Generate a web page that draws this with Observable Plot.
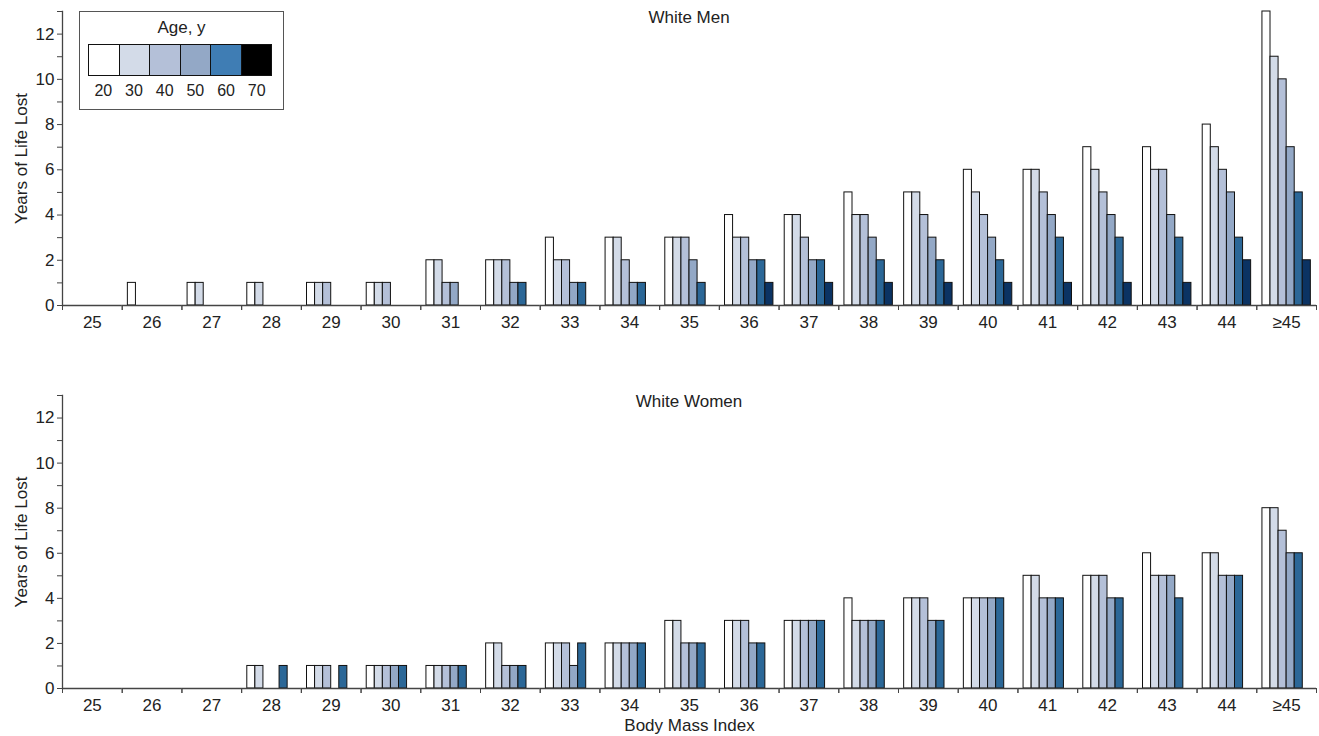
<!DOCTYPE html>
<html>
<head>
<meta charset="utf-8">
<script src="https://cdn.jsdelivr.net/npm/d3@7"></script>
<script src="https://cdn.jsdelivr.net/npm/@observablehq/plot@0.6"></script>
<style>
  body { margin: 0; background: #fff; font-family: "Liberation Sans", Arial, sans-serif; color: #222; }
  #wrap { position: relative; width: 1319px; height: 736px; overflow: hidden; }
  #top, #bottom { position: absolute; left: 0; }
  #top { top: 0; }
  #bottom { top: 384px; }
  .title { position: absolute; font-size: 17px; transform: translate(-50%, -50%); white-space: nowrap; }
  #legend { position: absolute; left: 79px; top: 11px; width: 205px; height: 99px; border: 1.5px solid #555; box-sizing: border-box; background: #fff; }
  #legend .lt { position: absolute; left: 0; right: 0; top: 6px; text-align: center; font-size: 17px; }
  #legend .sw { position: absolute; left: 8px; top: 32px; width: 184px; height: 32px; display: flex; border: 1px solid #111; box-sizing: border-box; }
  #legend .sw div { flex: 1; border-left: 1px solid #111; }
  #legend .sw div:first-child { border-left: none; }
  #legend .lb { position: absolute; left: 8px; top: 70px; width: 184px; display: flex; font-size: 16px; }
  #legend .lb div { flex: 1; text-align: center; }
</style>
</head>
<body>
<div id="wrap">
  <div id="top"></div>
  <div id="bottom"></div>
</div>
<script>
// ---- data ----
const bmiLabels = ["25","26","27","28","29","30","31","32","33","34","35","36","37","38","39","40","41","42","43","44","≥45"];
const ages = [20, 30, 40, 50, 60, 70];
const yTicks = [0,1,2,3,4,5,6,7,8,9,10,11,12,13];
const barColors = ["#ffffff", "#d3dbe8", "#b4c0d8", "#93a8c6", "#2b6797", "#0b3363"];
const legendColors = ["#ffffff", "#d3dbe8", "#b4c0d8", "#93a8c6", "#3f7db4", "#000000"];

// White Men, years of life lost by age group (values per BMI category)
const men20 = [0,1,1,1,1,1,2,2,3,3,3,4,4,5,5,6,6,7,7,8,13];
const men30 = [0,0,1,1,1,1,2,2,2,3,3,3,4,4,5,5,6,6,6,7,11];
const men40 = [0,0,0,0,1,1,1,2,2,2,3,3,3,4,4,4,5,5,6,6,10];
const men50 = [0,0,0,0,0,0,1,1,1,1,2,2,2,3,3,3,4,4,4,5,7];
const men60 = [0,0,0,0,0,0,0,1,1,1,1,2,2,2,2,2,3,3,3,3,5];
const men70 = [0,0,0,0,0,0,0,0,0,0,0,1,1,1,1,1,1,1,1,2,2];

// White Women
const women20 = [0,0,0,1,1,1,1,2,2,2,3,3,3,4,4,4,5,5,6,6,8];
const women30 = [0,0,0,1,1,1,1,2,2,2,3,3,3,3,4,4,5,5,5,6,8];
const women40 = [0,0,0,0,1,1,1,1,2,2,2,3,3,3,4,4,4,5,5,5,7];
const women50 = [0,0,0,0,0,1,1,1,1,2,2,2,3,3,3,4,4,4,5,5,6];
const women60 = [0,0,0,1,1,1,1,1,2,2,2,2,3,3,3,4,4,4,4,5,6];
const women70 = [0,0,0,0,0,0,0,0,0,0,0,0,0,0,0,0,0,0,0,0,0];

const panelTitles = ["White Men", "White Women"];
const yLabel = "Years of Life Lost";
const xLabel = "Body Mass Index";
const legendTitle = "Age, y";

function toRows(series) {
  const rows = [];
  bmiLabels.forEach((b, i) => ages.forEach((a, j) => rows.push({bmi: b, age: a, value: series[j][i]})));
  return rows;
}

const W = 1319, ML = 62, MR = 3;
const bw = (W - ML - MR) / bmiLabels.length;

function panel(series, {height, marginBottom, label}) {
  const data = toRows(series);
  return Plot.plot({
    width: W, height,
    marginLeft: ML, marginRight: MR, marginTop: 11, marginBottom,
    style: {fontFamily: '"Liberation Sans", Arial, sans-serif', fontSize: "17px", color: "#222", background: "#fff"},
    fx: {domain: bmiLabels, padding: 0, round: false},
    x: {domain: ages, paddingInner: 0, paddingOuter: 0.7, round: false, axis: null},
    y: {domain: [0, 13]},
    color: {type: "ordinal", domain: ages, range: barColors},
    marks: [
      Plot.barY(data, {filter: d => d.value > 0, fx: "bmi", x: "age", y: "value", fill: "age", stroke: "#111", strokeWidth: 1, inset: 0}),
      Plot.ruleY([0], {stroke: "#444", strokeWidth: 1.3}),
      Plot.frame({anchor: "left", facetAnchor: "left", stroke: "#444", strokeWidth: 1.3}),
      Plot.axisY({ticks: yTicks, tickFormat: d => d % 2 ? "" : String(d), tickSize: 5, tickPadding: 3, stroke: "#444",
        label: yLabel, labelAnchor: "center", labelArrow: "none", labelOffset: 48}),
      Plot.axisFx({anchor: "bottom", tickSize: 0, tickPadding: 10, label, labelAnchor: "center", labelArrow: "none", labelOffset: 42}),
      Plot.axisFx({anchor: "bottom", tickSize: 5, tickFormat: () => "", dx: bw / 2, label: null, stroke: "#444"}),
      Plot.axisFx({anchor: "bottom", tickSize: 5, tickFormat: () => "", dx: -bw / 2, label: null, stroke: "#444"})
    ]
  });
}

document.getElementById("top").append(panel([men20, men30, men40, men50, men60, men70], {height: 340, marginBottom: 35, label: null}));
document.getElementById("bottom").append(panel([women20, women30, women40, women50, women60, women70], {height: 352, marginBottom: 48, label: xLabel}));

const wrap = document.getElementById("wrap");
[[panelTitles[0], 18], [panelTitles[1], 402]].forEach(([t, y]) => {
  const d = document.createElement("div");
  d.className = "title"; d.textContent = t;
  d.style.left = (ML + (W - ML - MR) / 2) + "px"; d.style.top = y + "px";
  wrap.append(d);
});

const lg = document.createElement("div");
lg.id = "legend";
lg.innerHTML = `<div class="lt">${legendTitle}</div><div class="sw">${legendColors.map(c => `<div style="background:${c}"></div>`).join("")}</div><div class="lb">${ages.map(a => `<div>${a}</div>`).join("")}</div>`;
wrap.append(lg);
</script>
</body>
</html>
